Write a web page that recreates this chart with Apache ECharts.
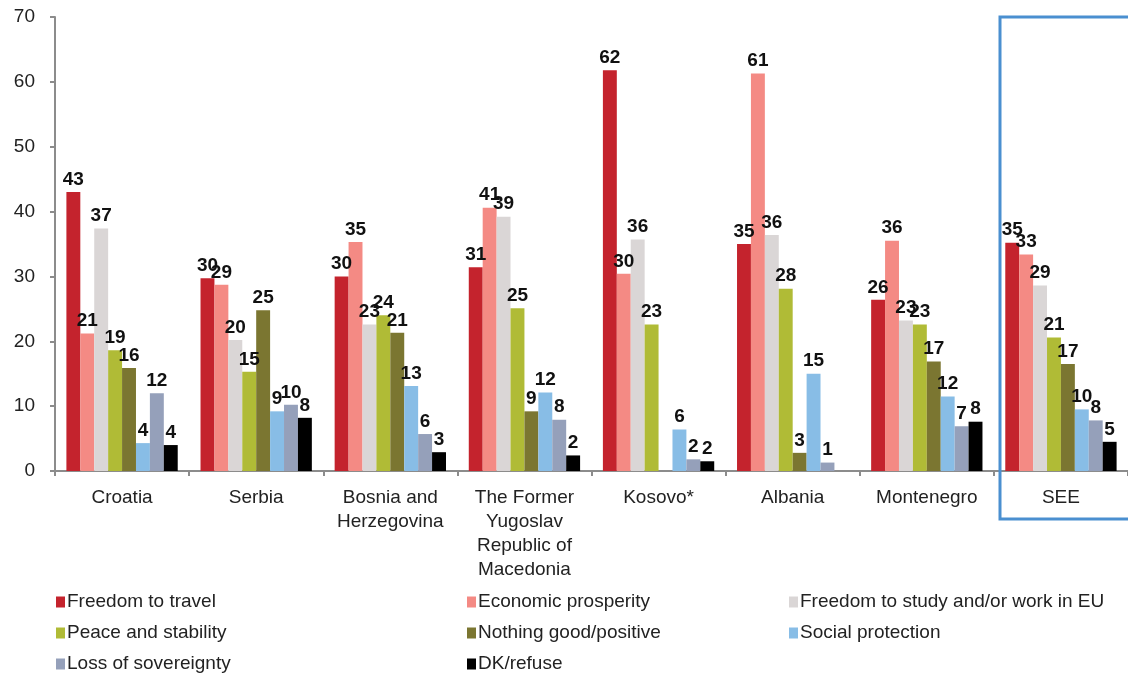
<!DOCTYPE html>
<html>
<head>
<meta charset="utf-8">
<script src="https://cdn.jsdelivr.net/npm/echarts@6/dist/echarts.min.js"></script>
<style>
  html, body { margin: 0; padding: 0; background: #fff; }
  #container { width: 1128px; height: 679px; }
</style>
</head>
<body>
<div id="container"></div>
<script>
// categories and values
var countries = ['Croatia', 'Serbia', 'Bosnia and\nHerzegovina', 'The Former\nYugoslav\nRepublic of\nMacedonia', 'Kosovo*', 'Albania', 'Montenegro', 'SEE'];
var seriesNames = ['Freedom to travel', 'Economic prosperity', 'Freedom to study and/or work in EU', 'Peace and stability', 'Nothing good/positive', 'Social protection', 'Loss of sovereignty', 'DK/refuse'];
var colors = ['#c4232d', '#f48a84', '#dad6d6', '#b0bb36', '#7b7631', '#88bde6', '#95a0ba', '#000000'];

var freedomTravel   = [43.0, 29.7, 30.0, 31.4, 61.8, 35.0, 26.4, 35.2];
var econProsperity  = [21.2, 28.7, 35.3, 40.6, 30.4, 61.3, 35.5, 33.4];
var studyWorkEU     = [37.4, 20.2, 22.6, 39.2, 35.7, 36.4, 23.2, 28.6];
var peaceStability  = [18.6, 15.3, 24.0, 25.1, 22.6, 28.1, 22.6, 20.6];
var nothingGood     = [15.9, 24.8, 21.3,  9.2, null, 2.8, 16.9, 16.5];
var socialProt      = [ 4.3,  9.2, 13.1, 12.1,  6.4, 15.0, 11.5,  9.5];
var lossSovereignty = [12.0, 10.2,  5.7,  7.9,  1.8,  1.3,  6.9,  7.8];
var dkRefuse        = [ 4.0,  8.2,  2.9,  2.4,  1.5, null,  7.6,  4.5];

var allValues = [freedomTravel, econProsperity, studyWorkEU, peaceStability, nothingGood, socialProt, lossSovereignty, dkRefuse];

var font = 'Liberation Sans, Arial, Helvetica, sans-serif';

var dom = document.getElementById('container');
var myChart = echarts.init(dom);

var series = seriesNames.map(function (name, i) {
    return {
        name: name,
        type: 'bar',
        data: allValues[i],
        barGap: '0%',
        barCategoryGap: '17%',
        itemStyle: { color: colors[i] },
        label: {
            show: true,
            position: 'top',
            distance: 3,
            color: '#111',
            fontFamily: font,
            fontWeight: 'bold',
            fontSize: 19,
            formatter: function (p) { return Math.round(p.value); }
        }
    };
});

function legendCol(left, names) {
    return {
        orient: 'vertical',
        left: left,
        top: 591,
        height: 88,
        padding: 0,
        icon: 'rect',
        itemWidth: 9,
        itemHeight: 11,
        itemGap: 9,
        data: names,
        textStyle: {
            fontFamily: font,
            fontSize: 19,
            color: '#222',
            lineHeight: 22,
            padding: [0, 0, 0, -3]
        }
    };
}

var option = {
    animation: false,
    grid: { left: 55, top: 17, width: 1076, height: 454 },
    xAxis: {
        type: 'category',
        data: countries,
        axisLine: { lineStyle: { color: '#8c8c8c', width: 2 } },
        axisTick: { show: true, length: 5, lineStyle: { color: '#8c8c8c', width: 2 } },
        axisLabel: {
            interval: 0,
            margin: 15,
            fontFamily: font,
            fontSize: 19,
            lineHeight: 24,
            color: '#222'
        }
    },
    yAxis: {
        type: 'value',
        min: 0,
        max: 70,
        interval: 10,
        splitLine: { show: false },
        axisLine: { show: true, lineStyle: { color: '#8c8c8c', width: 2 } },
        axisTick: { show: true, length: 5, lineStyle: { color: '#8c8c8c', width: 2 } },
        axisLabel: { margin: 20, fontFamily: font, fontSize: 19, color: '#222' }
    },
    legend: [
        legendCol(56, [seriesNames[0], seriesNames[3], seriesNames[6]]),
        legendCol(467, [seriesNames[1], seriesNames[4], seriesNames[7]]),
        legendCol(789, [seriesNames[2], seriesNames[5]])
    ],
    graphic: [{
        type: 'rect',
        shape: { x: 1000, y: 17, width: 140, height: 502 },
        style: { fill: 'none', stroke: '#4a8fd0', lineWidth: 3 },
        z: 100
    }],
    series: series
};
myChart.setOption(option, true);
</script>
</body>
</html>
